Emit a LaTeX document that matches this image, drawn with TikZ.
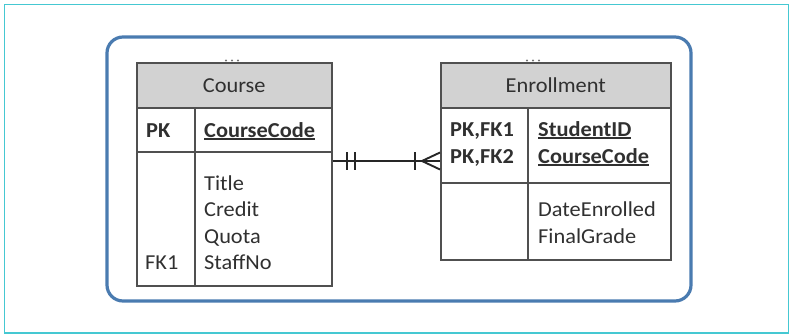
\documentclass[tikz,border=0pt]{standalone}
\usepackage{fontspec}
\setmainfont{Carlito}[FakeStretch=1.05]
\definecolor{cyanb}{HTML}{45C8D2}
\definecolor{blueb}{HTML}{4A7BB0}
\definecolor{hdr}{HTML}{D2D2D2}
\definecolor{tline}{HTML}{505050}
\definecolor{txt}{HTML}{303030}
\newcommand\ulx[1]{\setbox0\hbox{#1}\rlap{\rule[-2.6pt]{\wd0}{1.3pt}}\box0}
\begin{document}
\begin{tikzpicture}[x=1pt,y=-1pt,
  tbl/.style={draw=tline, line width=1.5pt, inner sep=0pt, anchor=north west},
  hd/.style={tbl, fill=hdr, text=txt, font=\fontsize{21.3}{25}\selectfont},
  sep/.style={draw=tline, line width=1.5pt},
  lbl/.style={text=txt, font=\fontsize{21.3}{25}\selectfont, inner sep=0pt, anchor=base west},
  bl/.style={lbl, font=\fontsize{21.3}{25}\selectfont\bfseries},
  rel/.style={draw=black!85, line width=1.9pt},
  dot/.style={fill=black!55, draw=none}]
\useasboundingbox (0,0) rectangle (792,335);
\draw[cyanb, line width=1.5pt] (4.5,4.5) rectangle (788.5,333);
\draw[blueb, line width=3.2pt, rounded corners=16pt] (107,37) rectangle (691,301);

% Course table
\node[tbl, minimum width=195pt, minimum height=223pt] (course) at (136,62) {};
\node[hd, minimum width=195pt, minimum height=45pt] (coursehd) at (136,62) {Course};
\draw[sep] (136,152) -- (331,152);
\draw[sep] (195,107) -- (195,285);
\node[bl] (cpk) at (146,137) {PK};
\node[bl] (ccode) at (204,137) {\ulx{CourseCode}};
\node[lbl] (ctitle) at (204,190) {Title};
\node[lbl] (ccredit) at (204,216.5) {Credit};
\node[lbl] (cquota) at (204,243) {Quota};
\node[lbl] (cstaff) at (204,269.5) {StaffNo};
\node[lbl] (cfk) at (145,269.5) {FK1};
\foreach \x in {226,232,238} \fill[dot] (\x,60.5) circle (1.2pt);

% Enrollment table
\node[tbl, minimum width=230pt, minimum height=197pt] (enroll) at (440,62) {};
\node[hd, minimum width=230pt, minimum height=45pt] (enrollhd) at (440,62) {Enrollment};
\draw[sep] (440,183) -- (670,183);
\draw[sep] (528,107) -- (528,259);
\node[bl] (epk1) at (450,136) {PK,FK1};
\node[bl] (epk2) at (450,163) {PK,FK2};
\node[bl] (esid) at (538,136) {\ulx{StudentID}};
\node[bl] (ecode) at (538,163) {\ulx{CourseCode}};
\node[lbl] (edate) at (538,216.5) {DateEnrolled};
\node[lbl] (egrade) at (538,243) {FinalGrade};
\foreach \x in {527,533,539} \fill[dot] (\x,60.5) circle (1.2pt);

% Relationship
\coordinate (ry) at (0,161);
\draw[rel] (course.east |- ry) -- (enroll.west |- ry);
\draw[rel] (347,152) -- (347,170);
\draw[rel] (355,152) -- (355,170);
\draw[rel] (415,152) -- (415,170);
\draw[rel] (440,152.5) -- (422,161) -- (440,169.5);
\end{tikzpicture}
\end{document}
